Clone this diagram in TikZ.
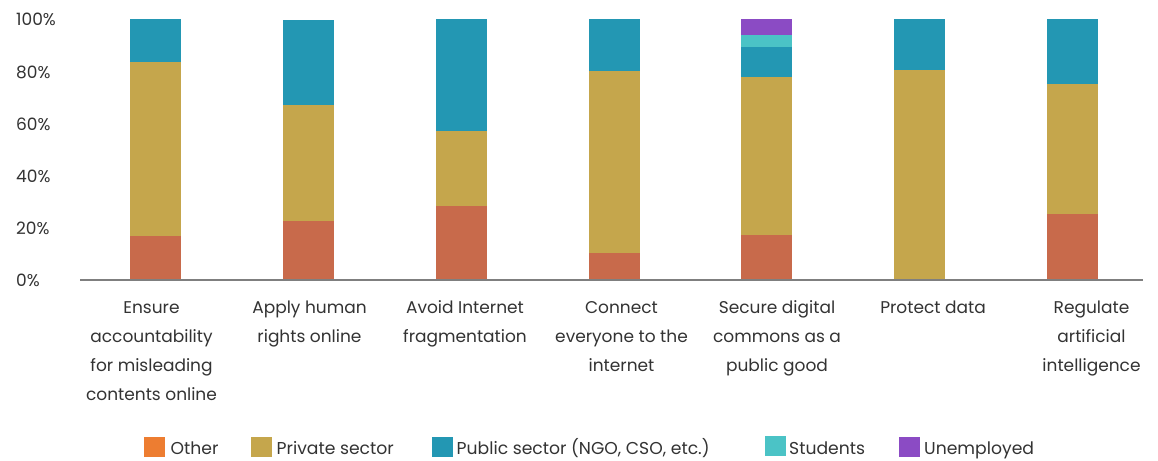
\documentclass[tikz,border=0pt]{standalone}
\usepackage{fontspec}
\setmainfont{Poppins}
\definecolor{cOther}{HTML}{C86A4B}
\definecolor{cOtherL}{HTML}{ED7D31}
\definecolor{cPriv}{HTML}{C5A64C}
\definecolor{cPub}{HTML}{2397B3}
\definecolor{cStu}{HTML}{4BC3C6}
\definecolor{cUnemp}{HTML}{8B4BC4}
\definecolor{cText}{HTML}{333333}
\definecolor{cAxis}{HTML}{7F7F7F}
\begin{document}
\begin{tikzpicture}[x=1pt,y=-1pt,
  ylab/.style={anchor=base west,inner sep=0pt,text=cText,font=\fontsize{17}{20}\selectfont},
  catlab/.style={anchor=base,inner sep=0pt,align=center,text=cText,font=\fontsize{17}{29.3}\selectfont},
  leglab/.style={anchor=base west,inner sep=0pt,text=cText,font=\fontsize{17.2}{20}\selectfont}]
\useasboundingbox[fill=white] (0,0) rectangle (1158,460);
% bars: colour, left x, bottom y, top y
\newcommand{\barseg}[4]{\fill[#1] (#2,#3) rectangle ++(51,#4-#3);}
% Bar 1
\barseg{cOther}{130}{280}{236}
\barseg{cPriv}{130}{236}{62}
\barseg{cPub}{130}{62}{19}
% Bar 2
\barseg{cOther}{283}{280}{221}
\barseg{cPriv}{283}{221}{105}
\barseg{cPub}{283}{105}{20}
% Bar 3
\barseg{cOther}{436}{280}{206}
\barseg{cPriv}{436}{206}{131}
\barseg{cPub}{436}{131}{19}
% Bar 4
\barseg{cOther}{589}{280}{253}
\barseg{cPriv}{589}{253}{71}
\barseg{cPub}{589}{71}{19}
% Bar 5
\barseg{cOther}{741}{280}{235}
\barseg{cPriv}{741}{235}{77}
\barseg{cPub}{741}{77}{47}
\barseg{cStu}{741}{47}{35}
\barseg{cUnemp}{741}{35}{19}
% Bar 6
\barseg{cPriv}{894}{280}{70}
\barseg{cPub}{894}{70}{19}
% Bar 7
\barseg{cOther}{1047}{280}{214}
\barseg{cPriv}{1047}{214}{84}
\barseg{cPub}{1047}{84}{19}
% axis
\coordinate (ax0) at (80,280);
\coordinate (ax1) at (1143,280);
\draw[cAxis,line width=1.5pt] (ax0) -- (ax1);
% y labels
\node[ylab] (y100) at (16,26) {100\%};
\node[ylab] (y80) at (16,78) {80\%};
\node[ylab] (y60) at (16,130) {60\%};
\node[ylab] (y40) at (16,182) {40\%};
\node[ylab] (y20) at (16,234) {20\%};
\node[ylab] (y0) at (16,286) {0\%};
% category labels (anchor = baseline of last line)
\node[catlab] (c1) at (151.5,400.9) {Ensure\\accountability\\for misleading\\contents online};
\node[catlab] (c2) at (309.5,342.3) {Apply human\\rights online};
\node[catlab] (c3) at (465,342.3) {Avoid Internet\\fragmentation};
\node[catlab] (c4) at (621.5,371.6) {Connect\\everyone to the\\internet};
\node[catlab] (c5) at (777,371.6) {Secure digital\\commons as a\\public good};
\node[catlab] (c6) at (933,313) {Protect data};
\node[catlab] (c7) at (1091.5,371.6) {Regulate\\artificial\\intelligence};
% legend
\fill[cOtherL] (144,437) rectangle (165,457);
\node[leglab] (l1) at (170.5,454.3) {Other};
\fill[cPriv] (251,437) rectangle (272,457);
\node[leglab] (l2) at (276.5,454.3) {Private sector};
\fill[cPub] (432,437) rectangle (453,457);
\node[leglab] (l3) at (456.5,454.3) {Public sector (NGO, CSO, etc.)};
\fill[cStu] (765,436) rectangle (786,456);
\node[leglab] (l4) at (789,454.3) {Students};
\fill[cUnemp] (899,437) rectangle (920,457);
\node[leglab] (l5) at (924,454.3) {Unemployed};
\end{tikzpicture}
\end{document}
